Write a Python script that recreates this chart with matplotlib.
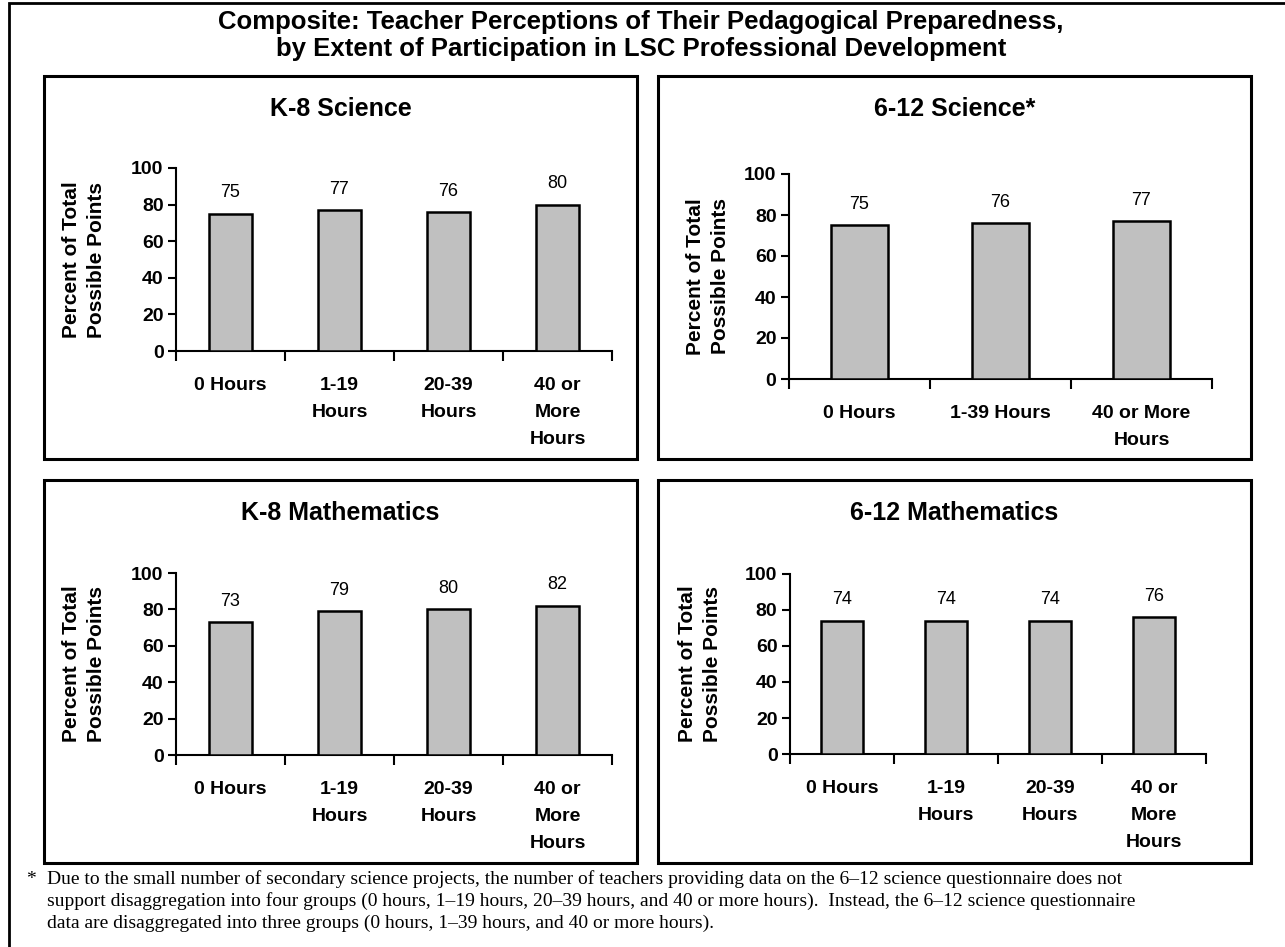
import matplotlib; matplotlib.use("Agg")
import matplotlib.pyplot as plt
from matplotlib.patches import Rectangle

W, H = 1285, 947
plt.rcParams["font.family"] = ["Liberation Sans", "DejaVu Sans"]

# data
cats4 = ["0 Hours", "1-19\nHours", "20-39\nHours", "40 or\nMore\nHours"]
cats3 = ["0 Hours", "1-39 Hours", "40 or More\nHours"]
k8_sci = [75, 77, 76, 80]
hs_sci = [75, 76, 77]
k8_math = [73, 79, 80, 82]
hs_math = [74, 74, 74, 76]
titles = ["K-8 Science", "6-12 Science*", "K-8 Mathematics", "6-12 Mathematics"]

TITLE = ("Composite: Teacher Perceptions of Their Pedagogical Preparedness,\n"
         "by Extent of Participation in LSC Professional Development")
NOTE = ("Due to the small number of secondary science projects, the number of teachers providing data on the 6\u201312 science questionnaire does not\n"
        "support disaggregation into four groups (0 hours, 1\u201319 hours, 20\u201339 hours, and 40 or more hours).  Instead, the 6\u201312 science questionnaire\n"
        "data are disaggregated into three groups (0 hours, 1\u201339 hours, and 40 or more hours).")

def fx(x): return x / W
def fy(y): return 1 - y / H

fig = plt.figure(figsize=(W/100, H/100), dpi=100)

# outer frame (only left/top visible in the page crop)
fig.add_artist(Rectangle((fx(9), fy(H+20)), 1.2, fy(3) - fy(H+20), transform=fig.transFigure,
                         fill=False, ec="black", lw=2))

# panel boxes: (x0, x1, y0, y1) in px
boxes = [(44, 637, 76, 459), (658, 1251, 76, 459), (44, 637, 480, 863), (658, 1251, 480, 863)]
# axes: (x0, x1, ytop, ybot) in px
axpos = [(176, 612, 168, 351), (789, 1212, 174, 379), (176, 612, 573, 755), (790, 1206, 574, 754)]
ylabx = [84, 708, 84, 700]
series = [(cats4, k8_sci), (cats3, hs_sci), (cats4, k8_math), (cats4, hs_math)]

for (bx0, bx1, by0, by1), (ax0, ax1_, ayt, ayb), ylx, (cats, vals), title in zip(boxes, axpos, ylabx, series, titles):
    fig.add_artist(Rectangle((fx(bx0), fy(by1)), fx(bx1) - fx(bx0), fy(by0) - fy(by1),
                             transform=fig.transFigure, fill=False, ec="black", lw=2.2))
    fig.text(fx((bx0 + bx1) / 2), fy(by0 + 33), title, ha="center", va="center",
             fontsize=18, fontweight="bold")
    ax = fig.add_axes([fx(ax0), fy(ayb), fx(ax1_) - fx(ax0), fy(ayt) - fy(ayb)])
    n = len(vals)
    xs = list(range(n))
    ax.bar(xs, vals, width=0.4, color="#c0c0c0", edgecolor="black", linewidth=1.8, zorder=3)
    for x, v in zip(xs, vals):
        ax.annotate(str(v), (x, v), xytext=(0, 15), textcoords="offset points",
                    ha="center", va="center", fontsize=13)
    ax.set_xlim(-0.5, n - 0.5)
    ax.set_ylim(0, 100)
    ax.set_yticks(range(0, 101, 20))
    ax.set_xticks([i - 0.5 for i in range(n + 1)])
    ax.set_xticklabels([])
    ax.set_xticks(xs, minor=True)
    ax.set_xticklabels(cats, minor=True, fontsize=14, fontweight="bold", linespacing=1.8, va="top")
    ax.tick_params(axis="x", which="major", direction="out", length=7, width=1.5)
    ax.tick_params(axis="x", which="minor", length=0, pad=18.5)
    ax.tick_params(axis="y", direction="out", length=6, width=1.5, labelsize=14, pad=3)
    for lab in ax.get_yticklabels():
        lab.set_fontweight("bold")
    for s in ("top", "right"):
        ax.spines[s].set_visible(False)
    for s in ("left", "bottom"):
        ax.spines[s].set_linewidth(1.5)
    fig.text(fx(ylx), fy((ayt + ayb) / 2), "Percent of Total\nPossible Points", rotation=90,
             ha="center", va="center", fontsize=15, fontweight="bold", linespacing=1.4)

fig.text(fx(641), fy(35.5), TITLE, ha="center", va="center", fontsize=18.5, fontweight="bold",
         linespacing=1.18)

fig.text(fx(26), fy(879), "*", ha="left", va="center", fontsize=14, family="Liberation Serif")
fig.text(fx(47), fy(901), NOTE, ha="left", va="center", fontsize=14, family="Liberation Serif",
         linespacing=1.3)

fig.savefig("out.png", dpi=100)
